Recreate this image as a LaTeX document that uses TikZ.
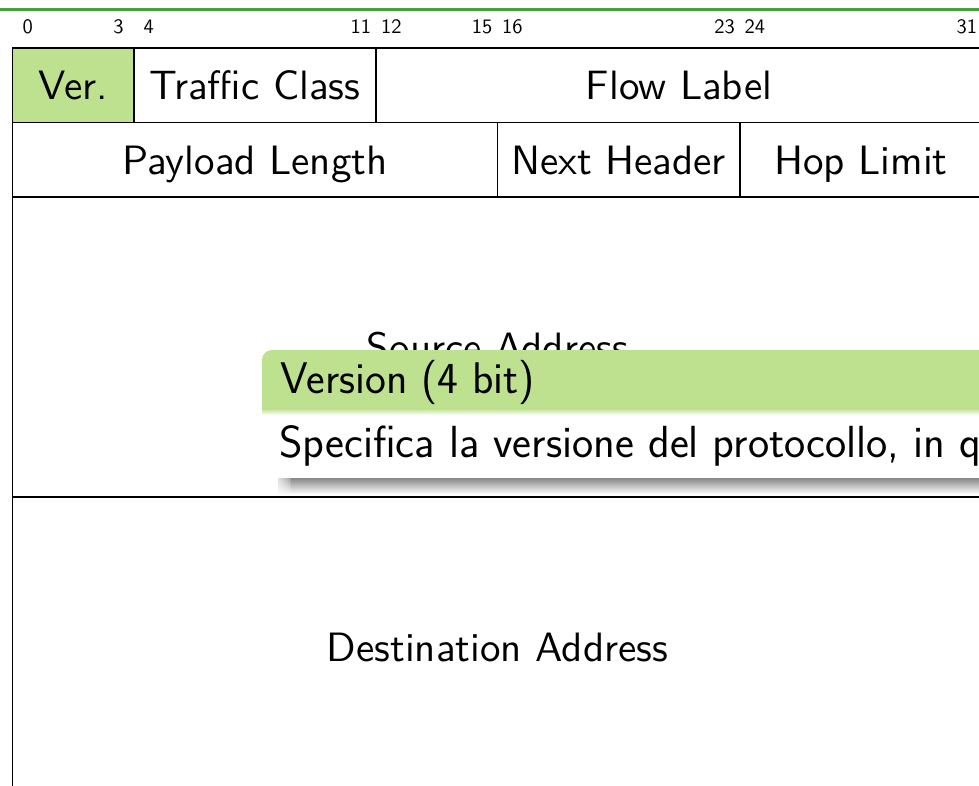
\documentclass[tikz,border=0pt]{standalone}
\usepackage{fontspec}
\setsansfont{lmsans10-regular.otf}
\newfontfamily\blocksans{lmsans17-regular.otf}
\definecolor{ruleGreen}{RGB}{70,160,62}
\definecolor{fieldGreen}{RGB}{189,225,143}
\newcommand{\bx}[1]{12.5+30.3*(#1)}
\begin{document}
\begin{tikzpicture}[x=1pt,y=-1pt,
  grid/.style={draw=black,line width=1.6pt},
  field/.style={font=\fontsize{41}{48}\selectfont\sffamily,anchor=base,inner sep=0pt},
  bitno/.style={font=\fontsize{20.5}{24}\selectfont\sffamily,anchor=base,inner sep=0pt},
  blocktitle/.style={font=\fontsize{44.3}{52}\selectfont\blocksans,anchor=base west,inner sep=0pt},
  blockbody/.style={font=\fontsize{45}{52}\selectfont\blocksans,anchor=base west,inner sep=0pt},
]
\useasboundingbox (0,0) rectangle (979,785);
\clip (0,0) rectangle (979,785);
\fill[white] (0,0) rectangle (979,785);

% rule under the frame title
\draw[ruleGreen,line width=2.2pt] (-5,9.5) -- (985,9.5);

% bit numbers
\foreach \b in {0,3,4,11,12,15,16,23,24,31}
  \node[bitno] (bit\b) at ({\bx{\b+0.5}},33) {\b};

% version field highlighted
\fill[fieldGreen] ({\bx{0}},48) rectangle ({\bx{4}},122.5);

% header grid
\draw[grid] ({\bx{0}},48) -- ({\bx{32}},48);
\draw[grid] ({\bx{0}},122.5) -- ({\bx{32}},122.5);
\draw[grid] ({\bx{0}},197) -- ({\bx{32}},197);
\draw[grid] ({\bx{0}},497) -- ({\bx{32}},497);
\draw[grid] ({\bx{0}},47.2) -- ({\bx{0}},800);
\draw[grid] ({\bx{32}},47.2) -- ({\bx{32}},800);
\draw[grid] ({\bx{4}},48) -- ({\bx{4}},122.5);
\draw[grid] ({\bx{12}},48) -- ({\bx{12}},122.5);
\draw[grid] ({\bx{16}},122.5) -- ({\bx{16}},197);
\draw[grid] ({\bx{24}},122.5) -- ({\bx{24}},197);

% field names
\node[field] (ver)  at ({\bx{2}},99.5)  {Ver.};
\node[field] (tc)   at ({\bx{8}},99.5)  {Traffic Class};
\node[field] (fl)   at ({\bx{22}},99.5) {Flow Label};
\node[field] (pl)   at ({\bx{8}},174.5) {Payload Length};
\node[field] (nh)   at ({\bx{20}},174.5) {Next Header};
\node[field] (hl)   at ({\bx{28}},174.5) {Hop Limit};
\node[field] (src)  at ({\bx{16}},361)  {Source Address};
\node[field] (dst)  at ({\bx{16}},661)  {Destination Address};

% description block: shadow, title bar, body
\shade[top color=black!50,middle color=black!62,bottom color=white]
  (278,477) rectangle (1010,494);
\foreach \i in {1,...,8}
  \fill[white,opacity=0.16] (277,476) rectangle ({277+1.8*\i},495);
\fill[fieldGreen] (262,409) [rounded corners=10pt] -- (262,350) -- (1010,350)
  [sharp corners] -- (1010,409) -- cycle;
\shade[top color=fieldGreen,bottom color=white] (262,408.5) rectangle (1010,415);
\fill[white] (262,414.5) rectangle (1010,478);
\node[blocktitle] (btitle) at (280,393) {Version (4 bit)};
\node[blockbody] (bbody) at (279,457)
  {Specifica la versione del protocollo, in questo caso 6.};
\end{tikzpicture}
\end{document}
